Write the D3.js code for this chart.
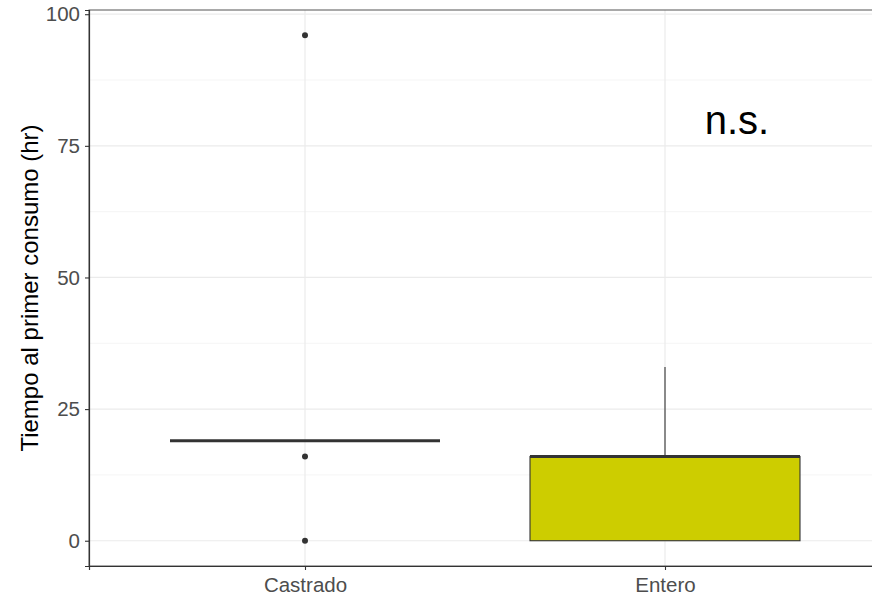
<!DOCTYPE html>
<html>
<head>
<meta charset="utf-8">
<script src="https://cdn.jsdelivr.net/npm/d3@7"></script>
<style>
  body { margin: 0; background: #fff; }
  svg { display: block; font-family: "Liberation Sans", Arial, sans-serif; }
</style>
</head>
<body>
<div id="chart"></div>
<script>
// data
var groups = ["Castrado", "Entero"];
var boxLow = [19, 0];       // q1
var boxMid = [19, 16];      // median
var boxHigh = [19, 16];     // q3
var whiskLow = [19, 0];
var whiskHigh = [19, 33];
var outCastrado = [96, 16, 0];
var outEntero = [];
var yTicks = [0, 25, 50, 75, 100];
var yMinor = [12.5, 37.5, 62.5, 87.5];

var width = 872, height = 596;
var pLeft = 89, pTop = 10, pBottom = 566, pRight = 881;

var svg = d3.select("#chart").append("svg")
    .attr("width", width)
    .attr("height", height);

var y = d3.scaleLinear().domain([-4.8, 100.8]).range([pBottom, pTop]);
var x = d3.scalePoint().domain(groups).range([pLeft, pRight]).padding(0.6);
var step = x.step();
var boxW = step * 0.75;

// grid
var grid = svg.append("g");
grid.selectAll(".minor").data(yMinor).join("line")
    .attr("x1", pLeft).attr("x2", pRight)
    .attr("y1", d => y(d)).attr("y2", d => y(d))
    .attr("stroke", "#f2f2f2").attr("stroke-width", 0.8);
grid.selectAll(".major").data(yTicks).join("line")
    .attr("x1", pLeft).attr("x2", pRight)
    .attr("y1", d => y(d)).attr("y2", d => y(d))
    .attr("stroke", "#ebebeb").attr("stroke-width", 1.2);
grid.selectAll(".vx").data(groups).join("line")
    .attr("x1", d => x(d)).attr("x2", d => x(d))
    .attr("y1", pTop).attr("y2", pBottom)
    .attr("stroke", "#ebebeb").attr("stroke-width", 1.2);

// whiskers
svg.append("g").selectAll("line").data(groups).join("line")
    .attr("x1", d => x(d)).attr("x2", d => x(d))
    .attr("y1", (d, i) => y(boxHigh[i])).attr("y2", (d, i) => y(whiskHigh[i]))
    .attr("stroke", "#333").attr("stroke-width", 1.1);
svg.append("g").selectAll("line").data(groups).join("line")
    .attr("x1", d => x(d)).attr("x2", d => x(d))
    .attr("y1", (d, i) => y(boxLow[i])).attr("y2", (d, i) => y(whiskLow[i]))
    .attr("stroke", "#333").attr("stroke-width", 1.1);

// boxes
svg.append("g").selectAll("rect").data(groups).join("rect")
    .attr("x", d => x(d) - boxW / 2)
    .attr("width", boxW)
    .attr("y", (d, i) => y(boxHigh[i]))
    .attr("height", (d, i) => y(boxLow[i]) - y(boxHigh[i]))
    .attr("fill", (d, i) => i === 1 ? "#cdcd00" : "#ffffff")
    .attr("stroke", "#333").attr("stroke-width", 1.1);

// medians
svg.append("g").selectAll("line").data(groups).join("line")
    .attr("x1", d => x(d) - boxW / 2).attr("x2", d => x(d) + boxW / 2)
    .attr("y1", (d, i) => y(boxMid[i])).attr("y2", (d, i) => y(boxMid[i]))
    .attr("stroke", "#333").attr("stroke-width", 3);

// outliers
var outs = [];
outCastrado.forEach(v => outs.push({ g: "Castrado", v: v }));
outEntero.forEach(v => outs.push({ g: "Entero", v: v }));
svg.append("g").selectAll("circle").data(outs).join("circle")
    .attr("cx", d => x(d.g)).attr("cy", d => y(d.v))
    .attr("r", 3).attr("fill", "#333");

// annotation
svg.append("text")
    .attr("x", x("Entero") + step * 0.2)
    .attr("y", y(77.3))
    .attr("text-anchor", "middle")
    .attr("font-size", 40)
    .attr("fill", "#000")
    .text("n.s.");

// panel border
svg.append("rect")
    .attr("x", pLeft).attr("y", pTop)
    .attr("width", pRight - pLeft).attr("height", pBottom - pTop)
    .attr("fill", "none").attr("stroke", "#555").attr("stroke-width", 1);

// axes
var yAxis = svg.append("g")
    .attr("transform", "translate(" + pLeft + ",0)")
    .call(d3.axisLeft(y).tickValues(yTicks).tickSize(4).tickPadding(5));
var xAxis = svg.append("g")
    .attr("transform", "translate(0," + pBottom + ")")
    .call(d3.axisBottom(x).tickSize(4).tickPadding(7));
[yAxis, xAxis].forEach(function (a) {
    a.select(".domain").attr("stroke", "#333").attr("stroke-width", 1.2);
    a.selectAll(".tick line").attr("stroke", "#333").attr("stroke-width", 1.1);
    a.selectAll(".tick text").attr("fill", "#4d4d4d")
        .style("font-size", "20.5px")
        .style("font-family", "'Liberation Sans', Arial, sans-serif");
});

// y title
svg.append("text")
    .attr("transform", "translate(38," + ((pTop + pBottom) / 2) + ") rotate(-90)")
    .attr("text-anchor", "middle")
    .attr("font-size", 24)
    .attr("fill", "#000")
    .text("Tiempo al primer consumo (hr)");
</script>
</body>
</html>
